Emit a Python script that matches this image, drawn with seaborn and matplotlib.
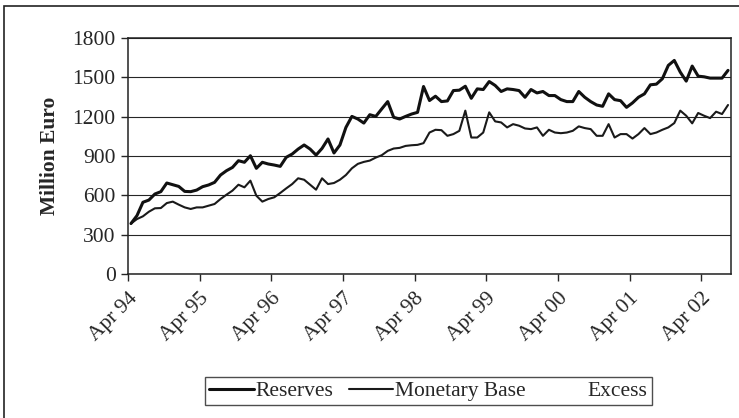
import numpy as np
import pandas as pd
import seaborn as sns
import matplotlib.pyplot as plt
import matplotlib.transforms as mtransforms
from matplotlib.patches import Rectangle
from matplotlib.lines import Line2D

# monthly data, Apr 94 .. Aug 02 (million euro)
reserves = [385, 445, 547, 564, 610, 628, 694, 681, 668, 630, 628, 640,
            666, 679, 699, 755, 788, 813, 864, 852, 902, 806, 852, 839,
            831, 821, 890, 915, 953, 984, 953, 907, 958, 1030, 923, 984,
            1118, 1202, 1182, 1151, 1215, 1202, 1259, 1315, 1195, 1182, 1202, 1220,
            1233, 1430, 1323, 1356, 1315, 1320, 1399, 1402, 1432, 1340, 1412, 1407,
            1468, 1438, 1392, 1412, 1407, 1399, 1348, 1407, 1381, 1392, 1361, 1361,
            1330, 1315, 1315, 1392, 1348, 1315, 1289, 1279, 1374, 1330, 1322, 1271,
            1305, 1348, 1374, 1443, 1448, 1489, 1591, 1629, 1540, 1471, 1586, 1509,
            1504, 1494, 1494, 1494, 1553]
monetary_base = [385, 419, 440, 475, 501, 503, 541, 552, 529, 508, 496, 508,
                 508, 521, 534, 572, 605, 636, 681, 661, 712, 597, 552, 572,
                 585, 618, 653, 686, 730, 719, 681, 643, 730, 686, 694, 719,
                 755, 806, 840, 855, 865, 888, 906, 939, 957, 962, 977, 982,
                 985, 998, 1079, 1100, 1097, 1054, 1067, 1092, 1246, 1041, 1041, 1079,
                 1233, 1164, 1156, 1118, 1143, 1131, 1110, 1105, 1118, 1054, 1100, 1079,
                 1074, 1079, 1092, 1126, 1113, 1105, 1054, 1054, 1143, 1041, 1067, 1067,
                 1033, 1067, 1113, 1067, 1079, 1100, 1118, 1151, 1246, 1207, 1149, 1228,
                 1207, 1189, 1238, 1220, 1289]
tick_labels = ["Apr 94", "Apr 95", "Apr 96", "Apr 97", "Apr 98",
               "Apr 99", "Apr 00", "Apr 01", "Apr 02"]

df = pd.DataFrame({"month": np.arange(len(reserves)),
                   "Reserves": reserves,
                   "Monetary Base": monetary_base})
df["Excess"] = df["Reserves"] - df["Monetary Base"]

sns.set_style("white")
plt.rcParams["font.family"] = ["Liberation Serif", "DejaVu Serif"]
FS = 15.5

fig = plt.figure(figsize=(7.39, 4.18), dpi=100)
ax = fig.add_axes([128 / 739, 1 - 274 / 418, (731 - 128) / 739, (274 - 38) / 418])

# excess is printed white in the original, so it is invisible
sns.lineplot(data=df, x="month", y="Excess", color="white", lw=1.5, ax=ax, zorder=0)
sns.lineplot(data=df, x="month", y="Monetary Base", color="#1a1a1a", lw=1.5, ax=ax, zorder=3)
sns.lineplot(data=df, x="month", y="Reserves", color="#111111", lw=2.2, ax=ax, zorder=4)

ax.set_xlim(-0.5, len(reserves) - 0.5)
ax.set_ylim(0, 1800)
ax.set_yticks(range(0, 1801, 300))
ax.set_xticks(np.arange(len(tick_labels)) * 12 - 0.5)
ax.set_xticklabels(tick_labels, rotation=45, ha="right", va="top",
                   rotation_mode="anchor", fontsize=FS)
shift = mtransforms.ScaledTranslation(-15 / 100, -12 / 100, fig.dpi_scale_trans)
for lab in ax.get_xticklabels():
    lab.set_transform(lab.get_transform() + shift)
ax.tick_params(axis="y", labelsize=FS, length=5, width=1, direction="out", left=True, pad=4)
ax.tick_params(axis="x", length=5, width=1, direction="out", bottom=True, pad=6)
ax.grid(axis="y", color="#262626", lw=0.8)
ax.set_axisbelow(True)
for s in ax.spines.values():
    s.set_color("#222222")
    s.set_linewidth(1.1)

ax.set_xlabel("")
ax.set_ylabel("Million Euro", fontsize=FS, fontweight="bold", labelpad=9)

handles = [Line2D([], [], color="#111111", lw=2.2),
           Line2D([], [], color="#1a1a1a", lw=1.5),
           Line2D([], [], color="white", lw=1.5)]
fig.legend(handles, ["Reserves", "Monetary Base", "Excess"], loc="center",
           bbox_to_anchor=(428.5 / 739, 1 - 391 / 418), ncol=3, frameon=True,
           fancybox=False, edgecolor="#222222", fontsize=FS,
           handlelength=2.05, handletextpad=0.08, columnspacing=0.75,
           borderpad=0.2, borderaxespad=0)

# chart-area border (only left and top edges visible in the scan)
fig.patches.append(Rectangle((4 / 739, -0.05), 1.05, 1 - 6 / 418 + 0.05,
                             transform=fig.transFigure, fill=False,
                             edgecolor="#222222", lw=1.2))

fig.savefig("out.png", dpi=100)
